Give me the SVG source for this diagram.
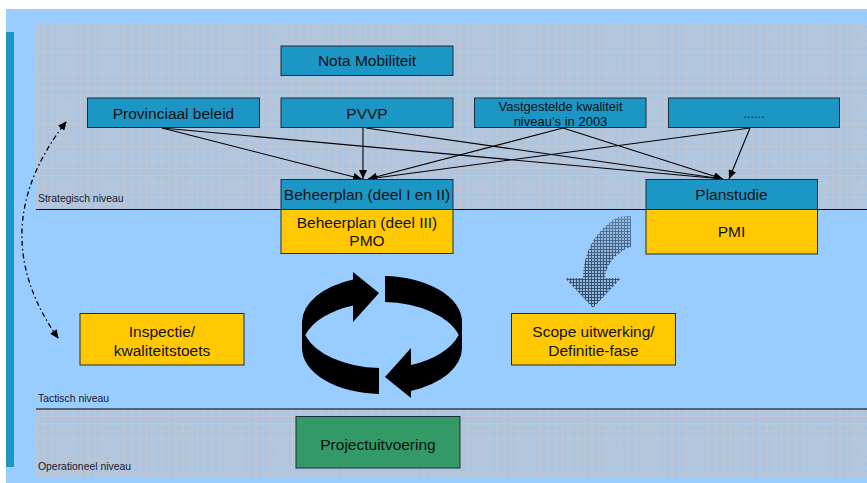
<svg xmlns="http://www.w3.org/2000/svg" width="867" height="483" viewBox="0 0 867 483">
  <defs>
    <style>
      .box { stroke: #1c2e3c; stroke-width: 1; }
      .teal { fill: #1c96c4; }
      .gold { fill: #ffc800; }
      .green { fill: #339966; }
      .lbl { font-family: "Liberation Sans", Arial, sans-serif; font-size: 15.5px; fill: #111; text-anchor: middle; }
      .small { font-size: 13px; }
      .lvl { font-family: "Liberation Sans", Arial, sans-serif; font-size: 10.4px; fill: #1a1a2a; }
      .link { fill: none; stroke: #000; stroke-width: 1.1; marker-end: url(#arrow); }
    </style>
    <pattern id="grid" patternUnits="userSpaceOnUse" width="7.3" height="7.3">
      <rect width="7.3" height="7.3" fill="#adc5de"/>
      <path d="M0 0.5 H7.3 M0.5 0 V7.3" stroke="#c4c6d2" stroke-width="1"/>
    </pattern>
    <pattern id="mesh" patternUnits="userSpaceOnUse" width="3" height="3">
      <rect width="3" height="3" fill="#9ab6d4"/>
      <path d="M0 0.5 H3 M0.5 0 V3" stroke="#2e4a6c" stroke-width="1"/>
    </pattern>
    <linearGradient id="fade" x1="0" y1="0" x2="0" y2="1">
      <stop offset="0" stop-color="#fff" stop-opacity="0.55"/>
      <stop offset="0.5" stop-color="#fff" stop-opacity="0.9"/>
      <stop offset="1" stop-color="#fff" stop-opacity="1"/>
    </linearGradient>
    <mask id="fadeMask" maskUnits="userSpaceOnUse" x="560" y="210" width="80" height="105">
      <rect x="560" y="210" width="80" height="105" fill="url(#fade)"/>
    </mask>
    <marker id="arrow" markerUnits="userSpaceOnUse" markerWidth="10" markerHeight="8" refX="9" refY="4" orient="auto">
      <path d="M0,0 L9,4 L0,8 Z" fill="#000"/>
    </marker>
    <marker id="dashHead" markerUnits="userSpaceOnUse" markerWidth="10" markerHeight="8" refX="8" refY="4" orient="auto">
      <path d="M0,0 L9,4 L0,8 Z" fill="#000"/>
    </marker>
    <marker id="dashTail" markerUnits="userSpaceOnUse" markerWidth="10" markerHeight="8" refX="1" refY="4" orient="auto">
      <path d="M9,0 L0,4 L9,8 Z" fill="#000"/>
    </marker>
  </defs>

  <!-- page background and frame -->
  <rect width="867" height="483" fill="#ffffff"/>
  <rect x="6" y="9" width="861" height="474" fill="#99ccff"/>
  <rect x="6" y="32" width="8" height="435" fill="#1c96c4"/>

  <!-- level bands -->
  <rect x="36" y="23" width="831" height="186" fill="url(#grid)"/>
  <rect x="36" y="409" width="831" height="68" fill="url(#grid)"/>
  <line x1="36" y1="209.5" x2="867" y2="209.5" stroke="#000" stroke-width="1"/>
  <line x1="36" y1="409" x2="867" y2="409" stroke="#3a3f48" stroke-width="1.5"/>

  <text class="lvl" x="38" y="202">Strategisch niveau</text>
  <text class="lvl" x="38" y="402">Tactisch niveau</text>
  <text class="lvl" x="38" y="469.5">Operationeel niveau</text>

  <!-- connectors -->
  <g id="connectors">
    <line class="link" x1="162" y1="128" x2="362" y2="179"/>
    <line class="link" x1="162" y1="128" x2="723" y2="179"/>
    <line class="link" x1="363" y1="128" x2="363" y2="179"/>
    <line class="link" x1="366" y1="128" x2="723" y2="179"/>
    <line class="link" x1="563" y1="128" x2="368" y2="179"/>
    <line class="link" x1="563" y1="128" x2="723" y2="179"/>
    <line class="link" x1="750" y1="128" x2="368" y2="179"/>
    <line class="link" x1="750" y1="128" x2="729" y2="179"/>
    <!-- dash-dot feedback between tactical and strategic level -->
    <path d="M58,338 Q-18,230 66,122" fill="none" stroke="#000" stroke-width="1.3" stroke-dasharray="5 3 1.5 3" marker-start="url(#dashTail)" marker-end="url(#dashHead)"/>
  </g>

  <!-- nodes -->
  <g id="nota-mobiliteit">
    <rect class="box teal" x="281" y="46" width="172" height="29.5"/>
    <text class="lbl" x="367" y="66">Nota Mobiliteit</text>
  </g>
  <g id="provinciaal-beleid">
    <rect class="box teal" x="87.5" y="98" width="172" height="29.5"/>
    <text class="lbl" x="173.5" y="118.5">Provinciaal beleid</text>
  </g>
  <g id="pvvp">
    <rect class="box teal" x="281" y="98" width="172" height="29.5"/>
    <text class="lbl" x="367" y="118.5">PVVP</text>
  </g>
  <g id="kwaliteitniveaus">
    <rect class="box teal" x="474.5" y="98" width="171.5" height="29.5"/>
    <text class="lbl small" x="560.5" y="110.5">Vastgestelde kwaliteit</text>
    <text class="lbl small" x="560.5" y="126">niveau’s in 2003</text>
  </g>
  <g id="overig">
    <rect class="box teal" x="668.5" y="98" width="171" height="29.5"/>
    <text class="lbl small" x="754" y="118">......</text>
  </g>
  <g id="beheerplan">
    <rect class="box teal" x="281" y="179.5" width="172" height="30"/>
    <rect class="box gold" x="281" y="209.5" width="172" height="44"/>
    <text class="lbl" x="367" y="200">Beheerplan (deel I en II)</text>
    <text class="lbl" x="367" y="227.5">Beheerplan (deel III)</text>
    <text class="lbl" x="367" y="245.5">PMO</text>
  </g>
  <g id="planstudie">
    <rect class="box teal" x="646" y="179.5" width="171.5" height="30"/>
    <rect class="box gold" x="646" y="209.5" width="171.5" height="44.5"/>
    <text class="lbl" x="731.5" y="200">Planstudie</text>
    <text class="lbl" x="731.5" y="237">PMI</text>
  </g>
  <g id="inspectie">
    <rect class="box gold" x="80" y="313.5" width="164" height="51.5"/>
    <text class="lbl" x="162" y="337">Inspectie/</text>
    <text class="lbl" x="162" y="355.5">kwaliteitstoets</text>
  </g>
  <g id="scope">
    <rect class="box gold" x="511.5" y="313.5" width="164" height="51.5"/>
    <text class="lbl" x="593.5" y="337">Scope uitwerking/</text>
    <text class="lbl" x="593.5" y="355.5">Definitie-fase</text>
  </g>
  <g id="projectuitvoering">
    <rect class="box green" x="296" y="416.5" width="164" height="51.5"/>
    <text class="lbl" x="378" y="449.5">Projectuitvoering</text>
  </g>

  <!-- cycle symbol -->
  <g id="cycle" fill="#000">
    <path d="M379,293 L353,272 L353,279.4 A80,46 0 0 0 302,322 L302,348 A80,46 0 0 0 379,394 L379,368 A80,46 0 0 1 305.3,335 A80,46 0 0 1 353,305.4 L353,322 Z"/>
    <path d="M385,276 L385,302 A80,46 0 0 1 458.7,335 A80,46 0 0 1 411,364.9 L411,348 L385,377 L411,398 L411,390.9 A80,46 0 0 0 462,348 L462,322 A80,46 0 0 0 385,276 Z"/>
  </g>

  <!-- hatched curved arrow from Planstudie down to scope -->
  <g id="uitwerking-pijl" mask="url(#fadeMask)">
    <path d="M618,217 L631,216 L631,247 C620,250 606,262 605,278 L621,278 L593,308 L565,278 L583,278 C583,250 598,228 618,217 Z" fill="url(#mesh)"/>
  </g>
</svg>
